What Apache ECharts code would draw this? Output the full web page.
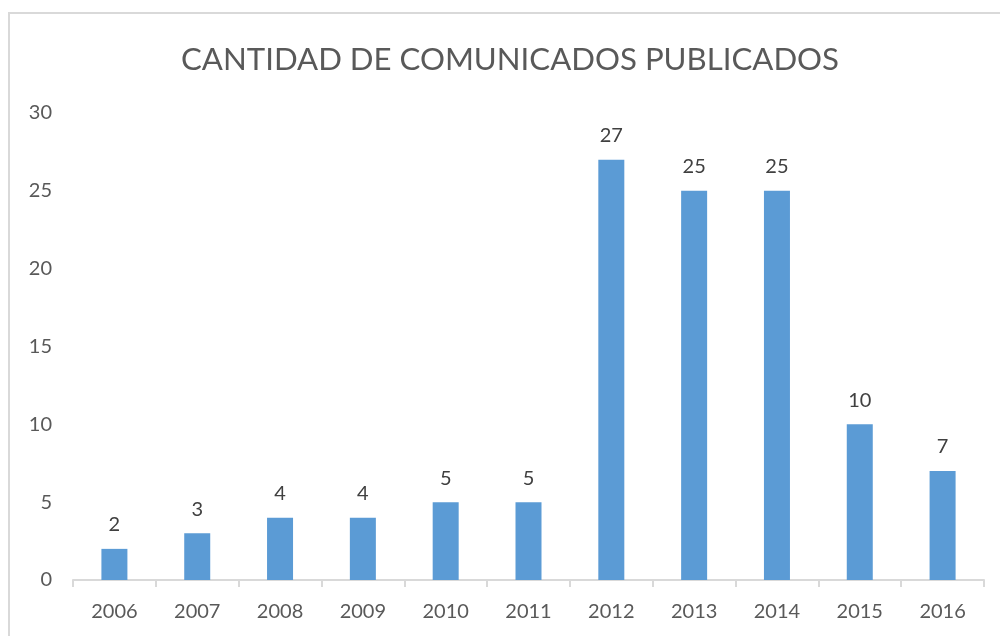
<!DOCTYPE html>
<html>
<head>
<meta charset="utf-8">
<script src="https://cdn.jsdelivr.net/npm/echarts@6/dist/echarts.min.js"></script>
<style>
    html, body { margin: 0; padding: 0; background: #fff; }
    #main { width: 1000px; height: 636px; }
</style>
</head>
<body>
<div id="main"></div>
<script>
    // datos
    var years = ['2006', '2007', '2008', '2009', '2010', '2011', '2012', '2013', '2014', '2015', '2016'];
    var comunicados = [2, 3, 4, 4, 5, 5, 27, 25, 25, 10, 7];

    var myChart = echarts.init(document.getElementById('main'));
    var font = 'Lato, "Open Sans", sans-serif';

    option = {
        animation: false,
        backgroundColor: '#fff',
        title: {
            text: 'CANTIDAD DE COMUNICADOS PUBLICADOS',
            left: 176,
            top: 39,
            textStyle: {
                fontFamily: font,
                fontSize: 31.2,
                fontWeight: 'normal',
                color: '#595959'
            }
        },
        graphic: [{
            type: 'rect',
            shape: { x: 9, y: 13, width: 1000, height: 700 },
            style: { fill: 'none', stroke: '#d9d9d9', lineWidth: 2 },
            silent: true
        }],
        grid: { left: 73, right: 16, top: 113, bottom: 56 },
        xAxis: {
            type: 'category',
            data: years,
            axisLine: { lineStyle: { color: '#d9d9d9', width: 2 } },
            axisTick: { show: true, length: 7, lineStyle: { color: '#d9d9d9', width: 2 } },
            axisLabel: { color: '#595959', fontSize: 20, fontFamily: font, margin: 22 }
        },
        yAxis: {
            type: 'value',
            min: 0,
            max: 30,
            interval: 5,
            axisLine: { show: false },
            axisTick: { show: false },
            splitLine: { show: false },
            axisLabel: { color: '#595959', fontSize: 20, fontFamily: font, margin: 21 }
        },
        series: [{
            type: 'bar',
            data: comunicados,
            barWidth: 26,
            itemStyle: { color: '#5B9BD5' },
            label: {
                show: true,
                position: 'top',
                distance: 14,
                color: '#404040',
                fontSize: 20,
                fontFamily: font
            }
        }]
    };
    myChart.setOption(option);
</script>
</body>
</html>
